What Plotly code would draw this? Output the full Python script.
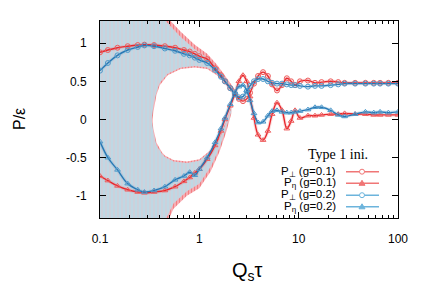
import plotly.graph_objects as go

# ---------------- data ----------------
tau = [0.1, 0.12, 0.15, 0.19, 0.24, 0.28, 0.35, 0.45, 0.57, 0.7, 0.8, 0.9, 1.0, 1.2,
       1.44, 1.65, 1.81, 2.05, 2.29, 2.5, 2.75, 3.0, 3.24, 3.55, 3.9, 4.38, 4.9, 5.4,
       6.05, 6.8, 7.6, 8.4, 9.2, 10.3, 12.4, 14.6, 17, 21, 25, 29, 37, 47, 57, 66, 80, 100]

p_perp_g01 = [0.88, 0.91, 0.94, 0.96, 0.975, 0.98, 0.975, 0.96, 0.94, 0.91, 0.89, 0.86, 0.83, 0.79,
              0.67, 0.58, 0.5, 0.41, 0.33, 0.27, 0.24, 0.27, 0.35, 0.47, 0.57, 0.62, 0.57, 0.46,
              0.38, 0.45, 0.54, 0.5, 0.45, 0.5, 0.51, 0.48, 0.49, 0.5, 0.49, 0.48, 0.48, 0.48, 0.48, 0.48, 0.48, 0.48]
p_eta_g01 = [-0.74, -0.8, -0.87, -0.92, -0.95, -0.96, -0.95, -0.93, -0.88, -0.81, -0.76, -0.7, -0.65, -0.52,
             -0.34, -0.15, 0.0, 0.18, 0.34, 0.5, 0.58, 0.5, 0.3, 0.02, -0.2, -0.27, -0.15, 0.07,
             0.22, 0.12, -0.12, -0.02, 0.12, 0.02, 0.05, 0.05, 0.06, 0.07, 0.07, 0.08, 0.07, 0.07, 0.06, 0.06, 0.06, 0.06]
p_perp_g02 = [0.64, 0.74, 0.84, 0.91, 0.95, 0.97, 0.96, 0.93, 0.9, 0.86, 0.84, 0.81, 0.78, 0.74,
              0.65, 0.56, 0.5, 0.41, 0.33, 0.29, 0.3, 0.37, 0.44, 0.5, 0.53, 0.53, 0.5, 0.48,
              0.47, 0.47, 0.46, 0.45, 0.45, 0.44, 0.43, 0.44, 0.44, 0.45, 0.46, 0.47, 0.47, 0.47, 0.47, 0.47, 0.47, 0.47]
p_eta_g02 = [-0.29, -0.5, -0.66, -0.84, -0.92, -0.95, -0.93, -0.88, -0.79, -0.74, -0.69, -0.73, -0.65, -0.5,
             -0.3, -0.12, 0.02, 0.2, 0.36, 0.43, 0.45, 0.38, 0.25, 0.08, -0.04, -0.03, 0.05, 0.11,
             0.12, 0.1, 0.09, 0.09, 0.1, 0.11, 0.13, 0.16, 0.16, 0.12, 0.06, 0.04, 0.07, 0.1, 0.09, 0.1, 0.09, 0.1]

# error envelopes (upper side: P_perp, lower side: P_eta)
env_up_tau = [0.1, 0.2, 0.3, 0.316, 0.326, 0.345, 0.37, 0.4, 0.48, 0.65, 0.9, 1.2, 1.5, 1.8, 2.1, 2.4]
red_perp_lo = [-1.4, -1.4, -1.4, -1.4, -0.15, 0.1, 0.32, 0.45, 0.58, 0.66, 0.68, 0.66, 0.58, 0.48, 0.37, 0.3]
red_perp_hi = [1.5, 1.5, 1.5, 1.5, 1.5, 1.5, 1.5, 1.45, 1.33, 1.15, 0.98, 0.86, 0.72, 0.58, 0.45, 0.35]
blue_perp_lo = [-1.4, -1.4, -1.4, -1.4, -0.05, 0.18, 0.36, 0.48, 0.6, 0.68, 0.7, 0.68, 0.6, 0.5, 0.38, 0.3]
blue_perp_hi = [1.5, 1.5, 1.5, 1.5, 1.5, 1.5, 1.5, 1.39, 1.26, 1.08, 0.92, 0.81, 0.68, 0.55, 0.42, 0.33]

env_lo_tau = [0.1, 0.2, 0.3, 0.316, 0.326, 0.345, 0.37, 0.42, 0.45, 0.55, 0.75, 1.0, 1.3, 1.6, 1.85, 2.1]
red_eta_hi = [1.4, 1.4, 1.4, 1.4, 0.1, -0.12, -0.3, -0.43, -0.47, -0.53, -0.55, -0.52, -0.4, -0.23, -0.03, 0.17]
red_eta_lo = [-1.5, -1.5, -1.5, -1.5, -1.5, -1.5, -1.5, -1.5, -1.4, -1.17, -1.0, -0.9, -0.68, -0.42, -0.18, 0.08]
blue_eta_hi = [1.4, 1.4, 1.4, 1.4, 0.05, -0.17, -0.34, -0.45, -0.49, -0.55, -0.57, -0.54, -0.42, -0.25, -0.05, 0.15]
blue_eta_lo = [-1.5, -1.5, -1.5, -1.5, -1.5, -1.5, -1.5, -1.5, -1.33, -1.1, -0.94, -0.84, -0.62, -0.37, -0.13, 0.1]

legend_title = "Type 1 ini."
legend_labels = ["P<sub>⊥</sub> (g=0.1)", "P<sub>η</sub> (g=0.1)", "P<sub>⊥</sub> (g=0.2)", "P<sub>η</sub> (g=0.2)"]
x_ticks = [0.1, 1, 10, 100]
x_ticktext = ["0.1", "1", "10", "100"]
y_ticks = [-1, -0.5, 0, 0.5, 1]
y_ticktext = ["-1", "-0.5", "0", "0.5", "1"]

# ---------------- styling ----------------
RED = "#e8262c"
RED_M = "#ee5c5c"
BLUE = "#2878b5"
BLUE_M = "#4f9acb"
LEG_RED = "#f07676"
LEG_BLUE = "#6cb4dc"
FONT = "Liberation Sans, Arial, sans-serif"

OFF = 8  # page body margin of the html page
W, H = 436 - OFF, 305 - OFF
L, R, T, B = 100 - OFF, 38, 21 - OFF, 87
PW, PH = W - L - R, H - T - B


def px2paper(px, py):
    # px, py: pixel position in the final screenshot
    return (px - OFF - L) / PW, (H - B - (py - OFF)) / PH


fig = go.Figure()


def band(xs, lo, hi, bg, fg, size, solidity):
    fig.add_trace(go.Scatter(
        x=list(xs) + list(xs)[::-1], y=list(hi) + list(lo)[::-1],
        mode="lines", line=dict(width=0), fill="toself", fillcolor=bg,
        fillpattern=dict(shape="|", fgcolor=fg, bgcolor=bg, size=size, solidity=solidity),
        hoverinfo="skip", showlegend=False))


band(env_up_tau, red_perp_lo, red_perp_hi, "#f7b4ba", "#ee4a4a", 3, 0.45)
band(env_lo_tau, red_eta_lo, red_eta_hi, "#f7b4ba", "#ee4a4a", 3, 0.45)
band(env_up_tau, blue_perp_lo, blue_perp_hi, "#bfd8e4", "#e6c2cb", 4, 0.35)
band(env_lo_tau, blue_eta_lo, blue_eta_hi, "#bfd8e4", "#e6c2cb", 4, 0.35)

series = [
    (p_perp_g01, RED, RED_M, "circle-open"),
    (p_eta_g01, RED, RED_M, "triangle-up-open"),
    (p_perp_g02, BLUE, BLUE_M, "circle-open"),
    (p_eta_g02, BLUE, BLUE_M, "triangle-up-open"),
]
for ys, lc, mc, sym in series:
    fig.add_trace(go.Scatter(x=tau, y=ys, mode="lines", line=dict(color=mc, width=3.5, shape="spline"),
                             opacity=0.2, hoverinfo="skip", showlegend=False))
for ys, lc, mc, sym in series:
    fig.add_trace(go.Scatter(x=tau, y=ys, mode="lines+markers",
                             line=dict(color=lc, width=1.4, shape="spline"),
                             marker=dict(symbol=sym, size=5, color=mc, line=dict(width=1, color=mc)),
                             showlegend=False))

# ---------------- manual gnuplot-style legend ----------------
ann = []
shapes = []
tx, ty = px2paper(338, 154)
ann.append(dict(x=tx, y=ty, xref="paper", yref="paper", text=legend_title, showarrow=False,
                xanchor="center", yanchor="middle",
                font=dict(family="Liberation Serif, Times New Roman, serif", size=14, color="black")))
row_y = [171.7, 183.3, 195.2, 206.8]
leg_cols = [LEG_RED, LEG_RED, LEG_BLUE, LEG_BLUE]
leg_syms = ["circle", "triangle", "circle", "triangle"]
for lab, py, col, sym in zip(legend_labels, row_y, leg_cols, leg_syms):
    ax_, ay_ = px2paper(338, py)
    ann.append(dict(x=ax_, y=ay_, xref="paper", yref="paper", text=lab, showarrow=False,
                    xanchor="right", yanchor="middle", font=dict(family=FONT, size=11.5, color="black")))
    x0, y0 = px2paper(346, py)
    x1, _ = px2paper(379, py)
    shapes.append(dict(type="line", xref="paper", yref="paper", x0=x0, x1=x1, y0=y0, y1=y0,
                       line=dict(color=col, width=1.5)))
    cx, cy = px2paper(362, py)
    if sym == "circle":
        shapes.append(dict(type="circle", xref="paper", yref="paper", xsizemode="pixel", ysizemode="pixel",
                           xanchor=cx, yanchor=cy, x0=-2.5, x1=2.5, y0=-2.5, y1=2.5,
                           line=dict(color=col, width=1), fillcolor="white"))
    else:
        shapes.append(dict(type="path", xref="paper", yref="paper", xsizemode="pixel", ysizemode="pixel",
                           xanchor=cx, yanchor=cy, path="M -3 -2 L 3 -2 L 0 3 Z",
                           line=dict(color=col, width=1), fillcolor=col))

# axis titles
xt, yt = px2paper(247, 271)
ann.append(dict(x=xt, y=yt, xref="paper", yref="paper", text="Q<sub>s</sub>τ", showarrow=False,
                xanchor="center", yanchor="middle", font=dict(family=FONT, size=20, color="black")))
xt, yt = px2paper(19, 119)
ann.append(dict(x=xt, y=yt, xref="paper", yref="paper", text="P/ε", showarrow=False, textangle=-90,
                xanchor="center", yanchor="middle", font=dict(family=FONT, size=16, color="black")))

minor_x = [m * d for d in (0.1, 1, 10) for m in range(2, 10)]

fig.update_layout(
    width=W, height=H, margin=dict(l=L, r=R, t=T, b=B, autoexpand=False),
    paper_bgcolor="white", plot_bgcolor="white",
    hovermode=False, dragmode=False,
    annotations=ann, shapes=shapes, showlegend=False,
    font=dict(family=FONT, size=12, color="black"),
    xaxis=dict(type="log", range=[-1, 2], tickvals=x_ticks, ticktext=x_ticktext,
               ticks="inside", ticklen=6, tickwidth=1, tickcolor="black",
               minor=dict(tickvals=minor_x, ticks="inside", ticklen=3, tickcolor="black", showgrid=False),
               showline=True, linecolor="black", linewidth=1, mirror="ticks",
               showgrid=False, zeroline=False, ticklabelstandoff=10,
               tickfont=dict(family=FONT, size=12)),
    yaxis=dict(range=[-1.29, 1.29], tickvals=y_ticks, ticktext=y_ticktext,
               ticks="inside", ticklen=6, tickwidth=1, tickcolor="black",
               showline=True, linecolor="black", linewidth=1, mirror="ticks",
               showgrid=False, zeroline=False, ticklabelstandoff=10,
               tickfont=dict(family=FONT, size=12)),
)

fig.write_html("out.html")
